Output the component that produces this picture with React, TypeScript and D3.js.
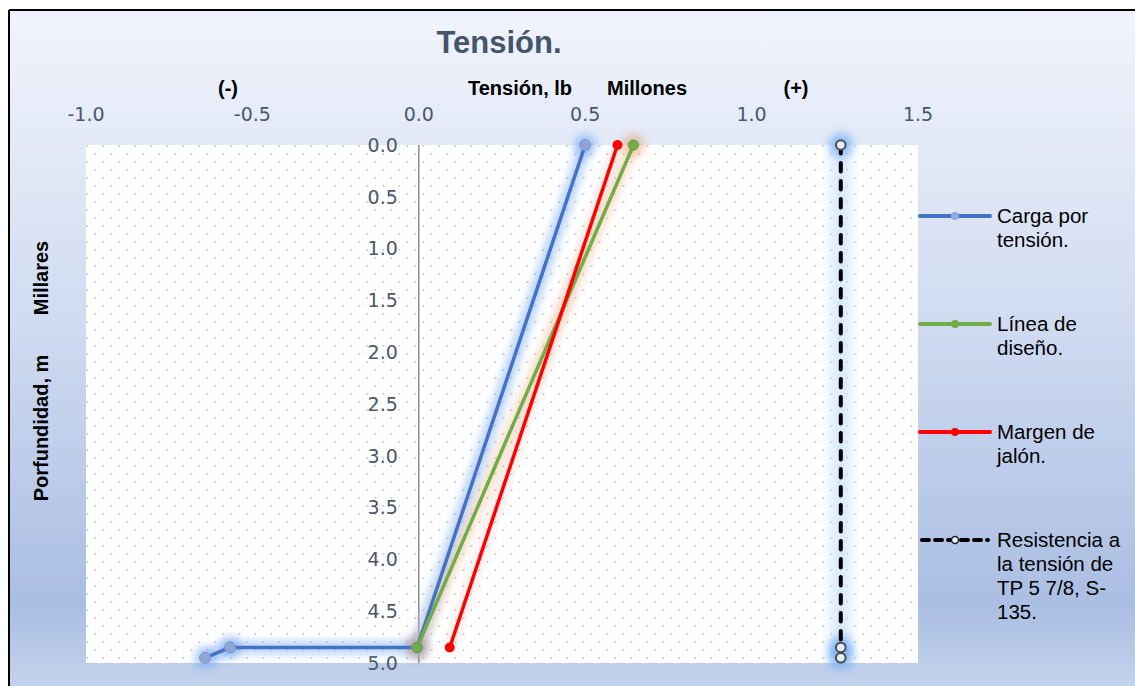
import React from "react";
import * as d3 from "d3";

const xTicks = [-1.0, -0.5, 0.0, 0.5, 1.0, 1.5];
const yTicks = [0.0, 0.5, 1.0, 1.5, 2.0, 2.5, 3.0, 3.5, 4.0, 4.5, 5.0];

// tension (millions lb), depth (thousands m)
const cargaX = [0.5, -0.005, -0.567, -0.642];
const cargaY = [0.0, 4.85, 4.85, 4.95];
const disenoX = [0.645, -0.005];
const disenoY = [0.0, 4.85];
const margenX = [0.597, 0.093];
const margenY = [0.0, 4.85];
const resistX = [1.268, 1.268, 1.268];
const resistY = [0.0, 4.85, 4.95];

const legendLabels = [
  ["Carga por", "tensión."],
  ["Línea de", "diseño."],
  ["Margen de", "jalón."],
  ["Resistencia a", "la tensión de", "TP 5 7/8, S-", "135."],
];

const W = 1135;
const H = 686;
const plot = { left: 86, right: 918, top: 145, bottom: 663 };

export default function App() {
  const x = d3.scaleLinear().domain([-1, 1.5]).range([plot.left, plot.right]);
  const y = d3.scaleLinear().domain([0, 5]).range([plot.top, plot.bottom]);
  const line = d3
    .line<[number, number]>()
    .x((d) => x(d[0]))
    .y((d) => y(d[1]));
  const pts = (xs: number[], ys: number[]) =>
    xs.map((v, i) => [v, ys[i]] as [number, number]);

  const carga = pts(cargaX, cargaY);
  const diseno = pts(disenoX, disenoY);
  const margen = pts(margenX, margenY);
  const resist = pts(resistX, resistY);

  const tickFont = "'DejaVu Sans', sans-serif";
  const arial = "'Liberation Sans', Arial, sans-serif";
  const legendY = [216, 324, 432, 540];

  return (
    <svg
      width={W}
      height={H}
      style={{ position: "absolute", left: 0, top: 0 }}
      xmlns="http://www.w3.org/2000/svg"
    >
      <defs>
        <linearGradient id="bg" x1="0" y1="0" x2="0" y2="1">
          <stop offset="0" stopColor="#f1f4fc" />
          <stop offset="0.45" stopColor="#d1dcf1" />
          <stop offset="0.88" stopColor="#aabee3" />
          <stop offset="1" stopColor="#c4d3ec" />
        </linearGradient>
        <pattern
          id="dots"
          x={plot.left}
          y={plot.top}
          width={16}
          height={16}
          patternUnits="userSpaceOnUse"
        >
          <rect width={16} height={16} fill="#ffffff" />
          <rect x={0.5} y={0} width={1.8} height={1.8} fill="#c6c9d1" />
          <rect x={8.5} y={8} width={1.8} height={1.8} fill="#c6c9d1" />
        </pattern>
        <filter id="glow" filterUnits="userSpaceOnUse" x={0} y={0} width={W} height={H}>
          <feGaussianBlur stdDeviation="4" />
        </filter>
        <filter id="glowWide" filterUnits="userSpaceOnUse" x={0} y={0} width={W} height={H}>
          <feGaussianBlur stdDeviation="6" />
        </filter>
      </defs>

      <rect x={9} y={10} width={W - 9} height={H - 10} fill="url(#bg)" />
      <line x1={9} y1={10} x2={W} y2={10} stroke="#000" strokeWidth={2} />
      <line x1={9} y1={10} x2={9} y2={H} stroke="#000" strokeWidth={2} />

      {/* plot area */}
      <rect
        x={plot.left}
        y={plot.top}
        width={plot.right - plot.left}
        height={plot.bottom - plot.top}
        fill="url(#dots)"
      />

      {/* title */}
      <text
        x={499}
        y={53}
        textAnchor="middle"
        fontFamily={arial}
        fontWeight="bold"
        fontSize={31}
        fill="#44546a"
      >
        Tensión.
      </text>

      {/* axis titles */}
      <text x={228} y={95} textAnchor="middle" fontFamily={arial} fontWeight="bold" fontSize={20} fill="#000">
        (-)
      </text>
      <text x={468} y={95} fontFamily={arial} fontWeight="bold" fontSize={20} fill="#000">
        Tensión, lb
      </text>
      <text x={607} y={95} fontFamily={arial} fontWeight="bold" fontSize={20} fill="#000">
        Millones
      </text>
      <text x={796} y={95} textAnchor="middle" fontFamily={arial} fontWeight="bold" fontSize={20} fill="#000">
        (+)
      </text>
      <text
        transform="translate(48,278) rotate(-90)"
        textAnchor="middle"
        fontFamily={arial}
        fontWeight="bold"
        fontSize={20}
        fill="#000"
      >
        Millares
      </text>
      <text
        transform="translate(48,428) rotate(-90)"
        textAnchor="middle"
        fontFamily={arial}
        fontWeight="bold"
        fontSize={20}
        fill="#000"
      >
        Porfundidad, m
      </text>

      {/* x tick labels */}
      {xTicks.map((t) => (
        <text
          key={"x" + t}
          x={x(t)}
          y={121}
          textAnchor="middle"
          fontFamily={tickFont}
          fontSize={19}
          fill="#4a586d"
        >
          {d3.format(".1f")(t).replace("−", "-")}
        </text>
      ))}

      {/* y axis line */}
      <line x1={x(0)} y1={plot.top} x2={x(0)} y2={plot.bottom} stroke="#8c8c8c" strokeWidth={1.5} />

      {/* y tick labels */}
      {yTicks.map((t) => (
        <text
          key={"y" + t}
          x={x(0) - 21}
          y={y(t)}
          dy="0.36em"
          textAnchor="end"
          fontFamily={tickFont}
          fontSize={19}
          fill="#4a586d"
        >
          {d3.format(".1f")(t)}
        </text>
      ))}

      {/* glows */}
      <path d={line(resist) || ""} fill="none" stroke="#c8e0fc" strokeWidth={20} opacity={0.7} filter="url(#glowWide)" />
      <path d={line(carga) || ""} fill="none" stroke="#8ab6f3" strokeWidth={13} opacity={0.6} filter="url(#glow)" />
      <path d={line(diseno) || ""} fill="none" stroke="#f2b98c" strokeWidth={12} opacity={0.45} filter="url(#glow)" />
      <path d={line(margen) || ""} fill="none" stroke="#d9b0a6" strokeWidth={10} opacity={0.3} filter="url(#glow)" />
      {resist.map((p, i) => (
        <circle key={"rg" + i} cx={x(p[0])} cy={y(p[1])} r={12} fill="#70acf5" opacity={0.7} filter="url(#glow)" />
      ))}
      {carga.map((p, i) => (
        <circle key={"cg" + i} cx={x(p[0])} cy={y(p[1])} r={11} fill="#6fa2f0" opacity={0.55} filter="url(#glow)" />
      ))}
      {diseno.map((p, i) => (
        <circle key={"dg" + i} cx={x(p[0])} cy={y(p[1])} r={11} fill="#e39a68" opacity={0.5} filter="url(#glow)" />
      ))}

      {/* series lines */}
      <path d={line(carga) || ""} fill="none" stroke="#4472c4" strokeWidth={3.5} strokeLinejoin="round" />
      <path d={line(diseno) || ""} fill="none" stroke="#70ad47" strokeWidth={3.5} strokeLinejoin="round" />
      <path d={line(margen) || ""} fill="none" stroke="#ff0000" strokeWidth={3.5} strokeLinejoin="round" />
      <path
        d={line(resist) || ""}
        fill="none"
        stroke="#000"
        strokeWidth={4}
        strokeDasharray="8.5 9.5"
        strokeLinecap="round"
      />

      {/* markers */}
      {carga.map((p, i) => (
        <circle key={"c" + i} cx={x(p[0])} cy={y(p[1])} r={5.5} fill="#8ea5d6" stroke="#7d96ca" strokeWidth={1} />
      ))}
      {diseno.map((p, i) => (
        <circle key={"d" + i} cx={x(p[0])} cy={y(p[1])} r={5} fill="#70ad47" stroke="#5f9a3a" strokeWidth={1} />
      ))}
      {margen.map((p, i) => (
        <circle key={"m" + i} cx={x(p[0])} cy={y(p[1])} r={5} fill="#ff0000" />
      ))}
      {resist.map((p, i) => (
        <circle key={"r" + i} cx={x(p[0])} cy={y(p[1])} r={4.8} fill="#e4ecf7" stroke="#4d4d4d" strokeWidth={2} />
      ))}

      {/* legend */}
      <g>
        <line x1={920} x2={990} y1={legendY[0]} y2={legendY[0]} stroke="#4472c4" strokeWidth={4} strokeLinecap="round" />
        <circle cx={955} cy={legendY[0]} r={4} fill="#8faadc" />
        <line x1={920} x2={990} y1={legendY[1]} y2={legendY[1]} stroke="#70ad47" strokeWidth={4} strokeLinecap="round" />
        <circle cx={955} cy={legendY[1]} r={4} fill="#70ad47" />
        <line x1={920} x2={990} y1={legendY[2]} y2={legendY[2]} stroke="#ff0000" strokeWidth={4} strokeLinecap="round" />
        <circle cx={955} cy={legendY[2]} r={4} fill="#ff0000" />
        <line
          x1={922}
          x2={988}
          y1={legendY[3]}
          y2={legendY[3]}
          stroke="#000"
          strokeWidth={4}
          strokeDasharray="7 6"
          strokeLinecap="round"
        />
        <circle cx={955} cy={legendY[3]} r={3.5} fill="#eaf3f8" stroke="#222" strokeWidth={1.5} />
        {legendLabels.map((lines, i) => (
          <text key={"l" + i} x={997} y={legendY[i] + 7} fontFamily={arial} fontSize={20.5} fill="#000">
            {lines.map((s, j) => (
              <tspan key={j} x={997} dy={j === 0 ? 0 : 24}>
                {s}
              </tspan>
            ))}
          </text>
        ))}
      </g>
    </svg>
  );
}
